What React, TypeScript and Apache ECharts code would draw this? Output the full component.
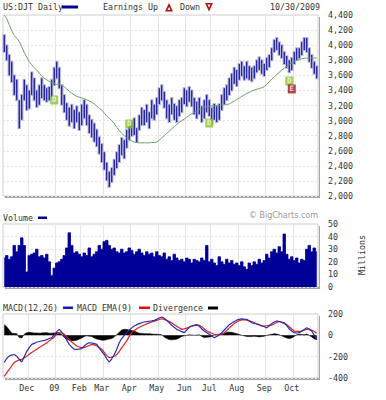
import React, { useEffect, useRef } from 'react';
import * as echarts from 'echarts';

// ---- data (two trading days per point, Nov 2008 – Oct 30 2009) ----
const priceHigh = [
  4135, 4000, 3870, 3780, 3600, 3540, 3270, 3340, 3540, 3470,
  3400, 3640, 3560, 3400, 3470, 3560, 3470, 3430, 3445, 3540,
  3700, 3780, 3700, 3470, 3340, 3230, 3170, 3210, 3140, 3190,
  3110, 3210, 3270, 3210, 3070, 3010, 2960, 2880, 2780, 2690,
  2580, 2440, 2320, 2370, 2480, 2580, 2675, 2770, 2740, 2875,
  2940, 2980, 3030, 2900, 3070, 3170, 3140, 3210, 3110, 3270,
  3210, 3300, 3430, 3470, 3380, 3270, 3210, 3300, 3220, 3190,
  3270, 3300, 3430, 3400, 3445, 3400, 3300, 3250, 3300, 3190,
  3270, 3340, 3270, 3170, 3220, 3190, 3220, 3340, 3430, 3470,
  3560, 3620, 3700, 3670, 3750, 3780, 3720, 3780, 3720, 3700,
  3720, 3800, 3840, 3800, 3750, 3830, 3870, 3960, 4070, 4095,
  4040, 4000, 3910, 3855, 3800, 3830, 3910, 3960, 3960, 4040,
  4095, 4095, 3960, 3870, 3780, 3720,
];
const priceLow = [
  3910, 3800, 3600, 3510, 3340, 3270, 2900, 3010, 3270, 3140,
  3160, 3340, 3270, 3180, 3210, 3300, 3270, 3250, 3270, 3310,
  3470, 3560, 3430, 3210, 3110, 3010, 2930, 2980, 2900, 2980,
  2875, 2940, 3030, 2940, 2835, 2780, 2720, 2660, 2560, 2450,
  2350, 2210, 2120, 2185, 2280, 2370, 2450, 2545, 2500, 2640,
  2740, 2795, 2810, 2715, 2875, 2940, 2940, 2980, 2900, 3030,
  3010, 3085, 3220, 3270, 3170, 3030, 2980, 3085, 3010, 2980,
  3060, 3110, 3220, 3190, 3250, 3190, 3085, 3030, 3085, 2980,
  3030, 3110, 3060, 2955, 3010, 2980, 3010, 3140, 3220, 3270,
  3340, 3400, 3490, 3460, 3540, 3590, 3540, 3560, 3540, 3520,
  3560, 3640, 3670, 3620, 3590, 3670, 3710, 3800, 3910, 3935,
  3870, 3830, 3750, 3700, 3640, 3670, 3750, 3800, 3830, 3870,
  3935, 3910, 3780, 3700, 3620, 3560,
];
const movingAverage = [
  4400, 4350, 4270, 4190, 4130, 4090, 4050, 3980, 3900, 3840,
  3780, 3740, 3700, 3670, 3630, 3590, 3560, 3540, 3520, 3505,
  3490, 3480, 3475, 3470, 3450, 3420, 3390, 3365, 3340, 3320,
  3310, 3300, 3290, 3275, 3260, 3245, 3220, 3190, 3165, 3140,
  3100, 3060, 3030, 3000, 2960, 2910, 2870, 2830, 2800, 2770,
  2750, 2730, 2715, 2710, 2705, 2705, 2705, 2705, 2705, 2710,
  2710, 2715, 2740, 2770, 2800, 2830, 2860, 2890, 2920, 2950,
  2975, 3000, 3020, 3045, 3070, 3090, 3110, 3130, 3150, 3170,
  3180, 3185, 3190, 3195, 3195, 3200, 3200, 3205, 3210, 3215,
  3220, 3240, 3260, 3280, 3300, 3320, 3340, 3360, 3375, 3390,
  3405, 3415, 3425, 3435, 3450, 3480, 3515, 3550, 3580, 3610,
  3640, 3670, 3695, 3720, 3745, 3765, 3785, 3800, 3810, 3820,
  3825, 3830, 3832, 3832, 3830, 3830,
];
const volumeMillions = [
  23, 25, 22, 24, 33, 28, 33, 39, 33, 12,
  25, 26, 27, 30, 24, 25, 23, 26, 20, 9,
  15, 19, 20, 22, 25, 31, 43, 33, 27, 28,
  26, 24, 27, 25, 31, 24, 26, 28, 33, 30,
  36, 37, 33, 30, 31, 28, 27, 30, 27, 28,
  31, 29, 26, 28, 30, 27, 25, 28, 26, 27,
  24, 28, 25, 24, 27, 22, 24, 21, 26, 23,
  21, 22, 20, 23, 22, 19, 22, 21, 20, 23,
  21, 33, 20, 22, 19, 17, 24, 20, 18, 22,
  19, 21, 18, 19, 17, 20, 16, 14, 19, 17,
  20, 18, 22, 19, 21, 26, 23, 28, 30, 27,
  32, 28, 42, 26, 22, 24, 21, 23, 19, 22,
  21, 30, 33, 28, 31, 28,
];
const macdLine = [
  -255, -215, -195, -185, -180, -195, -225, -250, -200, -150,
  -115, -85, -75, -65, -58, -53, -48, -40, -30, -22,
  5, 35, 56, 30, -6, -45, -85, -110, -130, -132,
  -130, -125, -100, -80, -70, -72, -78, -85, -120, -150,
  -180, -220, -250, -220, -180, -130, -70, -30, 0, 25,
  50, 70, 87, 100, 110, 118, 125, 128, 132, 135,
  140, 150, 162, 172, 160, 140, 118, 95, 75, 56,
  45, 35, 25, 50, 75, 87, 95, 100, 85, 60,
  40, 25, 10, -5, -22, -10, 5, 25, 50, 75,
  100, 115, 130, 142, 150, 155, 152, 150, 135, 118,
  112, 106, 100, 90, 80, 70, 90, 110, 125, 135,
  130, 124, 118, 90, 60, 40, 25, 22, 25, 40,
  55, 70, 55, 40, 0, -40,
];
const macdSignal = [
  -385, -350, -320, -285, -255, -240, -230, -225, -210, -195,
  -178, -160, -145, -130, -115, -100, -85, -70, -52, -35,
  -15, 10, 22, 25, 10, -15, -40, -62, -82, -100,
  -110, -115, -115, -105, -95, -85, -90, -100, -115, -130,
  -160, -190, -210, -205, -195, -180, -150, -115, -85, -50,
  -10, 25, 45, 62, 76, 87, 97, 107, 117, 125,
  133, 140, 148, 155, 150, 140, 130, 118, 100, 85,
  70, 56, 60, 68, 78, 87, 90, 93, 95, 80,
  60, 40, 30, 20, 10, 8, 8, 10, 25, 45,
  70, 90, 110, 125, 137, 145, 145, 142, 136, 130,
  118, 108, 97, 87, 88, 90, 93, 95, 108, 120,
  130, 120, 110, 100, 80, 60, 40, 38, 38, 40,
  48, 55, 60, 50, 35, 20,
];
const macdDivergence = [
  100, 80, 50, 20, 18, 15, -20, -25, 10, 25,
  28, 25, 22, 22, 20, 22, 25, 25, 20, 20,
  22, 25, 25, 5, -20, -35, -45, -50, -50, -45,
  -35, -25, -10, -5, -8, -10, -25, -35, -40, -45,
  -45, -40, -35, -30, -15, 5, 30, 50, 56, 55,
  50, 45, 40, 30, 20, 18, 15, 15, 15, 12,
  10, 10, 8, 5, -15, -30, -40, -42, -40, -35,
  -25, -10, -5, 0, 5, 3, 0, 2, 5, -10,
  -20, -18, -15, -10, 5, 8, 10, 15, 20, 28,
  30, 28, 22, 15, 8, 0, -5, -10, -12, -10,
  -8, -10, -15, -12, -8, 0, 5, 10, 15, 12,
  5, -5, -15, -25, -30, -25, -10, 5, 10, 8,
  5, 12, 0, -15, -35, -40,
];
const monthLabels = ['Dec', '09', 'Feb', 'Mar', 'Apr', 'May', 'Jun', 'Jul', 'Aug', 'Sep', 'Oct'];
const monthStartIndex = [10, 21, 31, 40, 51, 62, 73, 83, 94, 105, 116];
const dividendIndex = [20, 50, 82, 114];
const dividendPrice = [3273, 2955, 2968, 3525];
const earningsIndex = [115];
const earningsPrice = [3420];

// ---- layout ----
const MONO = '"DejaVu Sans Mono", monospace';
const FS = 8.3;
const TXT = '#333';
const L = 3;
const W = 315;
const G_MAIN = { top: 15, height: 181 };
const G_VOL = { top: 224, height: 63 };
const G_MACD = { top: 314, height: 64 };

const dayKeys = priceHigh.map((_, i) => 'd' + i);
const isMonthStart = (idx: number) => monthStartIndex.indexOf(idx) >= 0;

function text(x: number, y: number, s: string, extra: any = {}) {
  return {
    type: 'text',
    x,
    y,
    silent: true,
    style: {
      text: s,
      font: `${FS}px ${MONO}`,
      fill: TXT,
      verticalAlign: 'middle',
      textVerticalAlign: 'middle',
      ...extra,
    },
  };
}
function rect(x: number, y: number, w: number, h: number, fill: string) {
  return { type: 'rect', silent: true, shape: { x, y, width: w, height: h }, style: { fill } };
}
function shadows(g: { top: number; height: number }) {
  return [
    rect(L + W, g.top + 2, 2, g.height, '#a6a6a6'),
    rect(L + 2, g.top + g.height, W, 2, '#a6a6a6'),
  ];
}

function mkX(gridIndex: number, showLabels: boolean) {
  return {
    type: 'category',
    gridIndex,
    data: dayKeys,
    boundaryGap: true,
    axisLine: { show: false },
    axisTick: { show: false },
    axisLabel: showLabels
      ? {
          show: true,
          interval: (idx: number) => isMonthStart(idx),
          formatter: (v: string) => {
            const k = monthStartIndex.indexOf(parseInt(v.slice(1), 10));
            return k >= 0 ? monthLabels[k] : '';
          },
          fontSize: FS,
          fontFamily: MONO,
          color: TXT,
          margin: 6,
          padding: [0, 5, 0, 0],
        }
      : { show: false },
    splitLine: {
      show: true,
      interval: (idx: number) => isMonthStart(idx),
      lineStyle: { color: '#e4e4e4', width: 1 },
    },
  };
}
function mkY(gridIndex: number, min: number, max: number, interval: number, fmt?: (v: number) => string) {
  return {
    type: 'value',
    gridIndex,
    position: 'right',
    min,
    max,
    interval,
    axisLine: { show: false },
    axisTick: { show: false },
    axisLabel: {
      fontSize: FS,
      fontFamily: MONO,
      color: TXT,
      margin: 10,
      formatter: fmt || ((v: number) => String(v)),
    },
    splitLine: { show: true, lineStyle: { color: '#e4e4e4', type: [2, 2], width: 1 } },
  };
}

function buildOption() {
  const gridBase = { left: L, width: W, show: true, backgroundColor: '#fff', borderColor: '#cfcfcf', borderWidth: 1 };
  return {
    animation: false,
    backgroundColor: '#fff',
    grid: [
      { ...gridBase, ...G_MAIN },
      { ...gridBase, ...G_VOL },
      { ...gridBase, ...G_MACD },
    ],
    xAxis: [mkX(0, false), mkX(1, false), mkX(2, true)],
    yAxis: [
      mkY(0, 2000, 4400, 200, (v: number) => v.toLocaleString('en-US')),
      mkY(1, 0, 50, 10),
      mkY(2, -400, 200, 200),
    ],
    series: [
      {
        type: 'custom',
        name: 'price',
        xAxisIndex: 0,
        yAxisIndex: 0,
        data: priceHigh.map((h, i) => [i, priceLow[i], h]),
        encode: { x: 0, y: [1, 2] },
        renderItem: (_p: any, api: any) => {
          const hi = api.coord([api.value(0), api.value(2)]);
          const lo = api.coord([api.value(0), api.value(1)]);
          return {
            type: 'group',
            children: [
              {
                type: 'line',
                shape: { x1: hi[0], y1: hi[1] - 1, x2: lo[0], y2: lo[1] + 1 },
                style: { stroke: '#b8b8de', lineWidth: 3.4 },
              },
              {
                type: 'line',
                shape: { x1: hi[0], y1: hi[1], x2: lo[0], y2: lo[1] },
                style: { stroke: '#10109c', lineWidth: 1.2 },
              },
            ],
          };
        },
        z: 3,
      },
      {
        type: 'line',
        name: 'ma',
        xAxisIndex: 0,
        yAxisIndex: 0,
        data: movingAverage,
        symbol: 'none',
        lineStyle: { color: '#6a9f6a', width: 1 },
        z: 4,
      },
      {
        type: 'scatter',
        name: 'dividend',
        xAxisIndex: 0,
        yAxisIndex: 0,
        data: dividendIndex.map((d, i) => [d, dividendPrice[i]]),
        symbol: 'rect',
        symbolSize: [8, 9],
        itemStyle: { color: '#86c232' },
        label: { show: true, position: 'inside', formatter: 'D', color: '#fff', fontSize: 7.5, fontWeight: 'bold', fontFamily: MONO },
        z: 5,
      },
      {
        type: 'scatter',
        name: 'earnings',
        xAxisIndex: 0,
        yAxisIndex: 0,
        data: earningsIndex.map((d, i) => [d, earningsPrice[i]]),
        symbol: 'rect',
        symbolSize: [8, 9],
        itemStyle: { color: '#a31515' },
        label: { show: true, position: 'inside', formatter: 'E', color: '#fff', fontSize: 7.5, fontWeight: 'bold', fontFamily: MONO },
        z: 5,
      },
      {
        type: 'line',
        name: 'volume',
        xAxisIndex: 1,
        yAxisIndex: 1,
        data: volumeMillions,
        step: 'middle',
        symbol: 'none',
        lineStyle: { color: '#000099', width: 0.8 },
        areaStyle: { color: '#000099', opacity: 1 },
      },
      {
        type: 'line',
        name: 'divergence',
        xAxisIndex: 2,
        yAxisIndex: 2,
        data: macdDivergence,
        symbol: 'none',
        lineStyle: { color: '#000', width: 0.6 },
        areaStyle: { color: '#000', opacity: 1 },
      },
      {
        type: 'line',
        name: 'signal',
        xAxisIndex: 2,
        yAxisIndex: 2,
        data: macdSignal,
        symbol: 'none',
        lineStyle: { color: '#dd2222', width: 1.2 },
      },
      {
        type: 'line',
        name: 'macd',
        xAxisIndex: 2,
        yAxisIndex: 2,
        data: macdLine,
        symbol: 'none',
        lineStyle: { color: '#2a2ab8', width: 1.2 },
      },
    ],
    graphic: [
      ...shadows(G_MAIN),
      ...shadows(G_VOL),
      ...shadows(G_MACD),
      // header
      text(3, 7, 'US:DJT Daily'),
      rect(62, 5.5, 16, 3, '#000099'),
      text(103, 7, 'Earnings Up'),
      { type: 'polygon', silent: true, shape: { points: [[165, 11.5], [169, 3], [173, 11.5]] }, style: { fill: '#b01515' } },
      { type: 'polygon', silent: true, shape: { points: [[167.5, 10], [169, 7], [170.5, 10]] }, style: { fill: '#fff' } },
      text(180, 7, 'Down'),
      { type: 'polygon', silent: true, shape: { points: [[205, 3], [213, 3], [209, 11.5]] }, style: { fill: '#b01515' } },
      { type: 'polygon', silent: true, shape: { points: [[207.5, 4.5], [210.5, 4.5], [209, 7.5]] }, style: { fill: '#fff' } },
      text(320, 7, '10/30/2009', { align: 'right', textAlign: 'right' }),
      // volume header
      text(3, 218, 'Volume'),
      rect(38, 216.5, 9, 2.5, '#000099'),
      text(318, 215, '\u00A9 BigCharts.com', {
        align: 'right',
        textAlign: 'right',
        fill: '#999',
        font: '8px "DejaVu Sans", sans-serif',
      }),
      {
        type: 'text',
        x: 362,
        y: 255,
        rotation: Math.PI / 2,
        silent: true,
        style: {
          text: 'Millions',
          font: `${FS}px ${MONO}`,
          fill: TXT,
          align: 'center',
          textAlign: 'center',
          verticalAlign: 'middle',
          textVerticalAlign: 'middle',
        },
      },
      // MACD header
      text(3, 308, 'MACD(12,26)'),
      rect(63, 306.5, 10, 2.5, '#1a1aaa'),
      text(77, 308, 'MACD EMA(9)'),
      rect(139, 306.5, 11, 2.5, '#dd1111'),
      text(153, 308, 'Divergence'),
      rect(208, 306.5, 10, 3, '#000'),
    ],
  };
}

export default function App() {
  const ref = useRef<HTMLDivElement>(null);
  useEffect(() => {
    document.body.style.margin = '0';
    if (!ref.current) return;
    const chart = echarts.init(ref.current, null, { renderer: 'svg' });
    chart.setOption(buildOption() as any);
    return () => chart.dispose();
  }, []);
  return <div ref={ref} style={{ width: 386, height: 400, background: '#fff' }} />;
}
